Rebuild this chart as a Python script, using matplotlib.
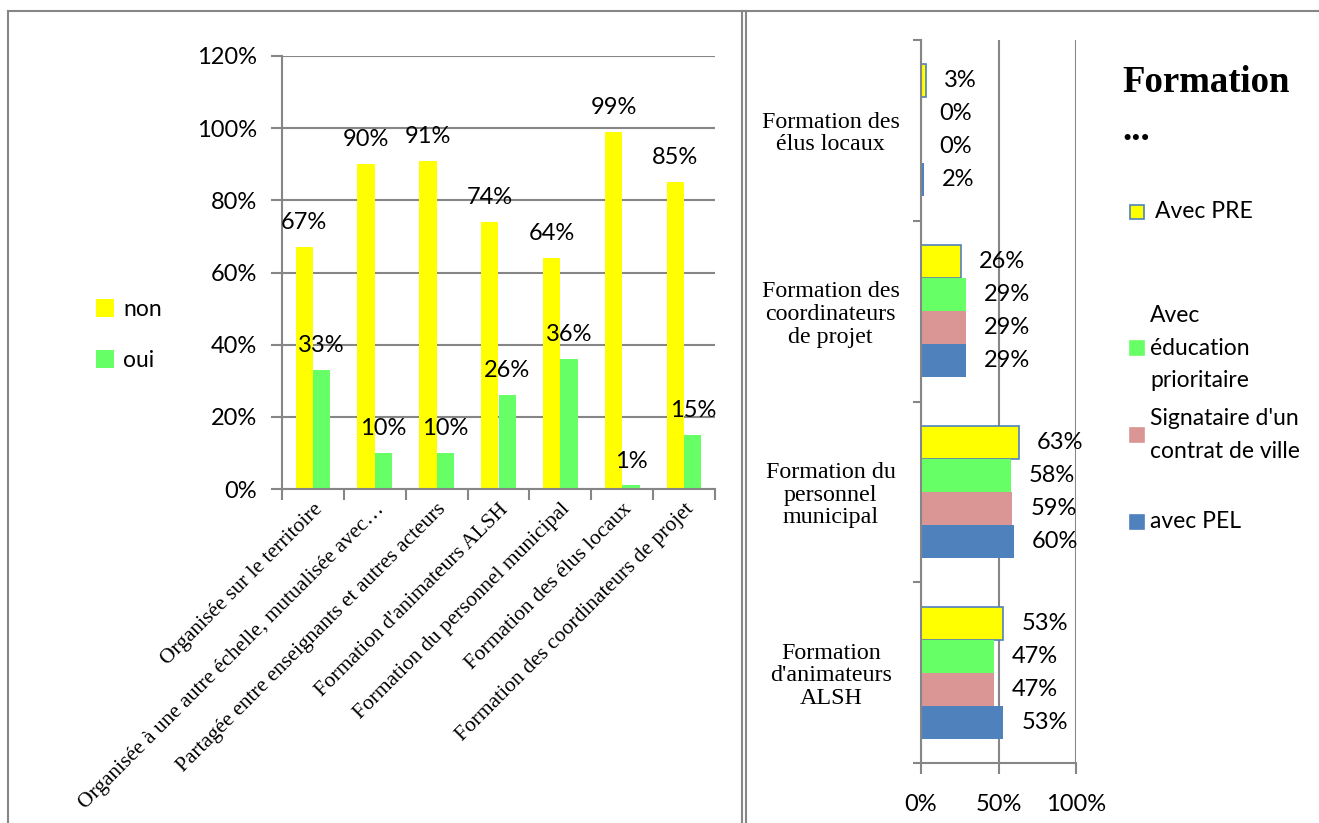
import matplotlib.pyplot as plt
import numpy as np
from matplotlib.patches import Rectangle
from matplotlib.lines import Line2D

# données - graphique de gauche
categories = ["Organisée sur le territoire",
              "Organisée à une autre échelle, mutualisée avec…",
              "Partagée entre enseignants et autres acteurs",
              "Formation d'animateurs ALSH",
              "Formation du personnel municipal",
              "Formation des élus locaux",
              "Formation des coordinateurs de projet"]
non_vals = [67, 90, 91, 74, 64, 99, 85]
oui_vals = [33, 10, 10, 26, 36, 1, 15]

# données - graphique de droite (de haut en bas)
formations = ["Formation des\nélus locaux",
              "Formation des\ncoordinateurs\nde projet",
              "Formation du\npersonnel\nmunicipal",
              "Formation\nd'animateurs\nALSH"]
pre_vals = [3, 26, 63, 53]
edu_vals = [0, 29, 58, 47]
sign_vals = [0, 29, 59, 47]
pel_vals = [2, 29, 60, 53]
series_names = ["Avec PRE", "Avec\néducation\nprioritaire",
                "Signataire d'un\ncontrat de ville", "avec PEL"]

YELLOW = '#FFFF00'
GREEN = '#66FF66'
PINK = '#D99694'
BLUE = '#4F81BD'
GRID = '#868686'
W, H = 1319, 823
FS = 17      # police sans
FSS = 17.3   # police serif

sans = ['Lato', 'DejaVu Sans']
serif = ['Liberation Serif', 'DejaVu Serif']
plt.rcParams['font.family'] = sans

fig = plt.figure(figsize=(W / 100, H / 100), dpi=100)

# cadres
fig.add_artist(Line2D([8 / W, 8 / W], [0, 1 - 11 / H], color=GRID, lw=1.5))
fig.add_artist(Line2D([8 / W, 1], [1 - 11 / H, 1 - 11 / H], color=GRID, lw=1.5))
fig.add_artist(Line2D([742 / W, 742 / W], [0, 1 - 11 / H], color=GRID, lw=1.5))
fig.add_artist(Line2D([746 / W, 746 / W], [0, 1 - 11 / H], color=GRID, lw=1.5))

# ---- gauche ----
ax1 = fig.add_axes([282 / W, 1 - 489 / H, 433 / W, 433 / H])
x = np.arange(len(categories))
bw = 0.28
b1 = ax1.bar(x - bw / 2, non_vals, bw, color=YELLOW, label='non', zorder=2)
b2 = ax1.bar(x + bw / 2, oui_vals, bw, color=GREEN, label='oui', zorder=2)
for bars in (b1, b2):
    ax1.bar_label(bars, labels=['%d%%' % v for v in bars.datavalues],
                  padding=10, fontsize=FS)
ax1.set_ylim(0, 120)
ax1.set_xlim(-0.5, len(categories) - 0.5)
ax1.set_yticks(range(0, 121, 20))
ax1.set_yticklabels(['%d%%' % v for v in range(0, 121, 20)], fontsize=FS)
ax1.yaxis.grid(True, color=GRID, lw=1.5, zorder=0)
ax1.set_axisbelow(True)
ax1.set_xticks(np.arange(-0.5, len(categories), 1))
ax1.set_xticklabels([])
ax1.set_xticks(x, minor=True)
ax1.set_xticklabels(categories, minor=True, rotation=45, ha='right',
                    rotation_mode='anchor', family=serif, fontsize=15.5)
ax1.tick_params(axis='x', which='minor', length=0, pad=8)
ax1.tick_params(axis='x', which='major', length=8, color=GRID, width=1.5)
ax1.tick_params(axis='y', length=8, color=GRID, width=1.5, pad=10)
for s in ['top', 'right']:
    ax1.spines[s].set_visible(False)
for s in ['left', 'bottom']:
    ax1.spines[s].set_color(GRID)
    ax1.spines[s].set_linewidth(1.5)
ax1.legend(loc='center left', bbox_to_anchor=(75 / W, 1 - 335 / H),
           bbox_transform=fig.transFigure, frameon=False, fontsize=16.5,
           handlelength=0.8, handleheight=0.8, handletextpad=0.4,
           labelspacing=1.3)

# ---- droite ----
ax2 = fig.add_axes([921 / W, 1 - 763 / H, 155 / W, 723 / H])
y = np.arange(len(formations))
bh = 0.1825
vals = [pre_vals, edu_vals, sign_vals, pel_vals]
cols = [YELLOW, GREEN, PINK, BLUE]
for i, (v, c) in enumerate(zip(vals, cols)):
    edge = BLUE if i == 0 else 'none'
    bars = ax2.barh(y + (i - 1.5) * bh, v, bh, color=c, edgecolor=edge,
                    lw=1.2, zorder=2)
    ax2.bar_label(bars, labels=['%d%%' % val for val in v], padding=13,
                  fontsize=FS)
ax2.set_ylim(len(formations) - 0.5, -0.5)
ax2.set_xlim(0, 100)
ax2.set_xticks([0, 50, 100])
ax2.set_xticklabels(['0%', '50%', '100%'], fontsize=FS)
ax2.xaxis.grid(True, color=GRID, lw=1.5, zorder=0)
ax2.set_axisbelow(True)
ax2.set_yticks(np.arange(-0.5, len(formations), 1))
ax2.set_yticklabels([])
ax2.set_yticks(y, minor=True)
ax2.set_yticklabels(formations, minor=True, family=serif, fontsize=FSS,
                    ha='center', linespacing=1.1)
ax2.tick_params(axis='y', which='minor', length=0, pad=65)
ax2.tick_params(axis='y', which='major', length=6, color=GRID, width=1.5)
ax2.tick_params(axis='x', length=8, color=GRID, width=1.5, pad=14)
for s in ['top', 'right']:
    ax2.spines[s].set_visible(False)
for s in ['left', 'bottom']:
    ax2.spines[s].set_color(GRID)
    ax2.spines[s].set_linewidth(1.5)

# légende droite
fig.text(1122 / W, 1 - 82 / H, 'Formation', family=serif, fontsize=26.5,
         fontweight='bold', va='center')
fig.text(1122 / W, 1 - 130 / H, '...', family=serif, fontsize=26.5,
         fontweight='bold', va='center')
leg_y = [212, 348, 435, 522]
for name, c, ly, i in zip(series_names, cols, leg_y, range(4)):
    edge = BLUE if i == 0 else c
    fig.add_artist(Rectangle((1130 / W, 1 - (ly + 7) / H), 14 / W, 14 / H,
                             facecolor=c, edgecolor=edge, lw=1.2,
                             transform=fig.transFigure))
    fig.text(1150 / W + (5 / W if i == 0 else 0), 1 - ly / H, name,
             fontsize=16.5, va='center', linespacing=1.65)

fig.savefig('out.png', dpi=100)
